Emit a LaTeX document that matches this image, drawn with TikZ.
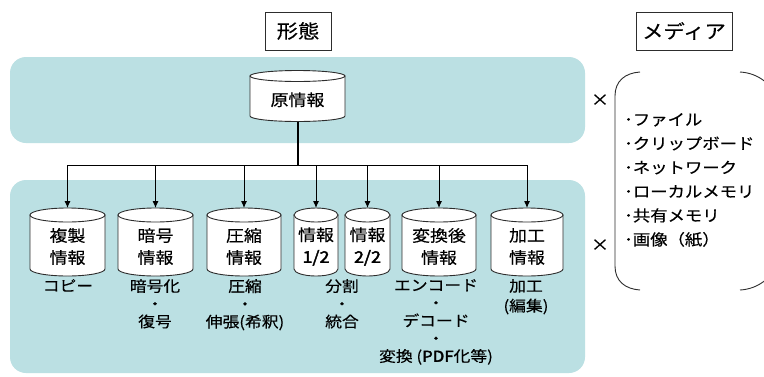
\documentclass[tikz,border=0pt]{standalone}
\usepackage{fontspec}
\newfontfamily\jp[FakeStretch=1.12,FakeBold=0.35]{Noto Sans CJK JP}
\newfontfamily\jpb[FakeStretch=1.12,FakeBold=2.5]{Noto Sans CJK JP}
\usetikzlibrary{arrows.meta}
\definecolor{band}{RGB}{187,224,227}
\definecolor{edge}{RGB}{45,45,45}
\tikzset{
  cylstyle/.style={draw=edge,line width=0.9pt,fill=white},
  cyltext/.style={font=\jp\fontsize{16}{22}\selectfont,align=center,inner sep=0pt},
  lbl/.style={font=\jp\fontsize{15}{17.75}\selectfont,align=center,inner sep=0pt,anchor=north},
  headbox/.style={draw=edge,line width=0.9pt,font=\jp\fontsize{19}{22}\selectfont,inner sep=0pt,minimum height=38pt},
  bandbox/.style={fill=band,rounded corners=16pt},
  bus/.style={line width=1pt,black},
  arr/.style={line width=1pt,black,-{Latex[length=7pt,width=6pt]}},
  paren/.style={line width=0.9pt,edge},
  times/.style={font=\jp\fontsize{16}{18}\selectfont,inner sep=0pt},
}
% name, cx, half width, top ellipse centre, bottom ellipse centre, y radius, text
\newcommand\mycyl[7]{%
  \draw[cylstyle] ({#2-#3},#4) -- ({#2-#3},#5) arc[start angle=180,end angle=360,x radius=#3pt,y radius=#6pt] -- ({#2+#3},#4) -- cycle;
  \draw[cylstyle] (#2,#4) ellipse[x radius=#3pt,y radius=#6pt];
  \node[cyltext] (#1) at (#2,{(#4+#6+#5)/2+1}) {#7};
  \coordinate (#1-top) at (#2,{#4-#6});
  \coordinate (#1-bot) at (#2,{#5+#6});
}
\begin{document}
\begin{tikzpicture}[x=1pt,y=-1pt]
\useasboundingbox (0,0) rectangle (764,376);
\clip (0,0) rectangle (764,376);
\fill[white] (0,0) rectangle (764,376);
% bands
\fill[bandbox] (10,57) rectangle (585,143);
\fill[bandbox] (10,180) rectangle (585,373);
% headers
\node[headbox,minimum width=66pt] (keitai) at (298,31) {形態};
\node[headbox,minimum width=96pt] (media) at (684,31) {メディア};
% original
\mycyl{orig}{297.5}{47.5}{76}{116}{5.5}{原情報}
% derived
\mycyl{c1}{67.5}{37.5}{215}{269}{7}{複製\\情報}
\mycyl{c2}{155.5}{37.5}{215}{269}{7}{暗号\\情報}
\mycyl{c3}{244}{37}{215}{269}{7}{圧縮\\情報}
\mycyl{c4}{316}{22}{215}{269}{7}{情報\\{\jpb 1/2}}
\mycyl{c5}{367.5}{22.5}{215}{269}{7}{情報\\{\jpb 2/2}}
\mycyl{c6}{439}{37}{215}{269}{7}{変換後\\情報}
\mycyl{c7}{527}{36}{215}{269}{7}{加工\\情報}
% tree
\coordinate (busy) at (0,165);
\draw[line width=2pt] (orig-bot) -- (orig-bot |- busy);
\draw[bus] (c1-top |- busy) -- (c7-top |- busy);
\foreach \n in {c1,c2,c3,c4,c5,c6,c7} \draw[arr] (\n-top |- busy) -- (\n-top);
% labels
\node[lbl] (l1) at (68,279) {コピー};
\node[lbl] (l2) at (155,279) {暗号化\\・\\復号};
\node[lbl] (l3) at (245,279) {圧縮\\・\\伸張(希釈)};
\node[lbl] (l4) at (342,279) {分割\\・\\統合};
\node[lbl] (l6) at (436,279) {エンコード\\・\\デコード\\・\\変換 ({\jpb PDF}化等)};
\node[lbl] (l7) at (526,279) {加工\\[2pt](編集)};
% times signs
\node[times] (x1) at (600,100) {×};
\node[times] (x2) at (600,245) {×};
% media list
\node[font=\jp\fontsize{15.5}{24}\selectfont,align=left,inner sep=0pt,anchor=west] (mlist) at (624,180)
  {･ファイル\\･クリップボード\\･ネットワーク\\･ローカルメモリ\\･共有メモリ\\･画像（紙）};
% parentheses
\draw[paren] (640,72) .. controls (625,73) and (615,81) .. (615,96) -- (615,266) .. controls (615,281) and (625,289) .. (640,290);
\draw[paren] (740,72) .. controls (758,73) and (772,84) .. (778,100) -- (778,262) .. controls (772,278) and (758,289) .. (740,290);
\end{tikzpicture}
\end{document}
